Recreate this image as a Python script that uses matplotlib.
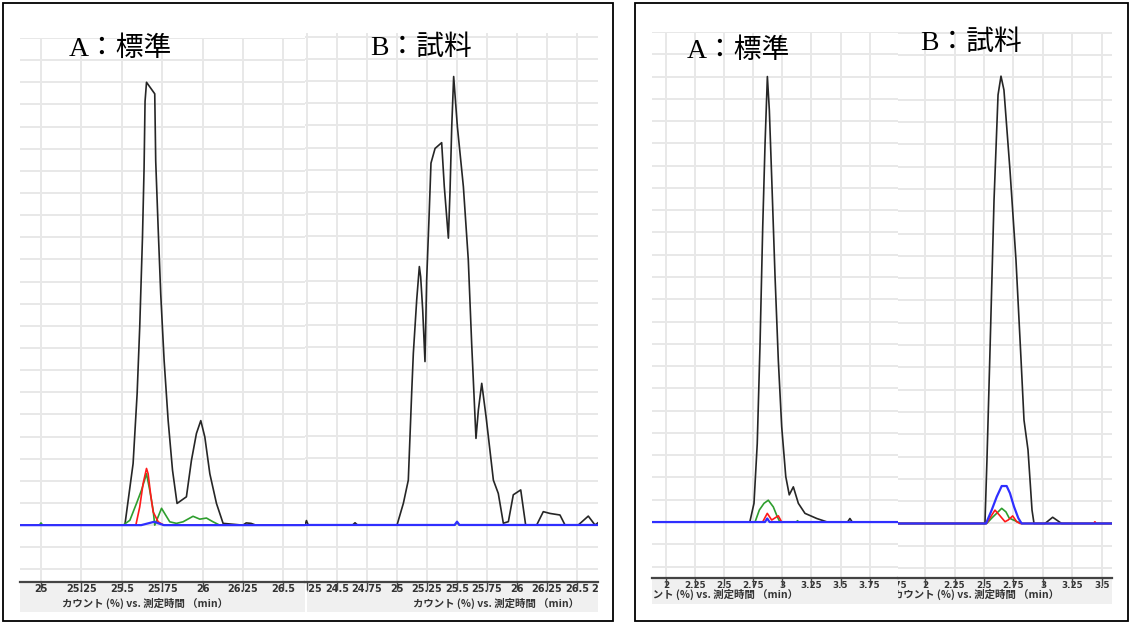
import numpy as np
import matplotlib.pyplot as plt
import matplotlib.transforms as mtransforms
from matplotlib.patches import Rectangle

plt.rcParams['font.family'] = ['DejaVu Sans', 'Noto Sans CJK JP']

W, H = 1134, 623

# ---- data: left panel, A (standard) ----
la_black_t = [24.87, 25.50, 25.519, 25.57, 25.595, 25.611, 25.628, 25.638, 25.644, 25.653,
              25.704, 25.71, 25.725, 25.741, 25.762, 25.787, 25.814, 25.842, 25.90, 25.931,
              25.962, 25.989, 26.014, 26.045, 26.086, 26.127, 26.25, 26.27, 26.30, 26.33, 26.634]
la_black_v = [0, 0, 0, 13.9, 29.7, 44.7, 64.9, 80.7, 95.7, 100,
              97.4, 82.2, 67.2, 52.2, 37.2, 23.6, 12.4, 4.9, 6.4, 14.6,
              20.7, 23.6, 19.9, 11.6, 4.9, 0.4, 0, 0.5, 0.4, 0, 0]
la_green_t = [24.87, 24.99, 25.0, 25.01, 25.508, 25.55, 25.591, 25.622, 25.653, 25.673, 25.694,
              25.704, 25.725, 25.746, 25.766, 25.797, 25.838, 25.879, 25.941, 25.983, 26.024,
              26.065, 26.106, 26.634]
la_green_v = [0, 0, 0.5, 0, 0, 1.1, 4.9, 7.9, 11.6, 7.9, 3.4,
              0, 1.9, 3.8, 2.6, 0.75, 0.4, 0.75, 2.0, 1.35, 1.6,
              0.75, 0, 0]
la_red_t = [24.87, 25.587, 25.611, 25.632, 25.653, 25.663, 25.678, 25.694, 25.725, 25.76, 26.634]
la_red_v = [0, 0, 4.1, 9.4, 12.8, 11.6, 7.1, 3.0, 0.75, 0, 0]
la_blue_t = [24.87, 25.62, 25.70, 25.76, 26.634]
la_blue_v = [0, 0, 0.75, 0, 0]

# ---- data: left panel, B (sample) ----
lb_black_t = [24.233, 24.245, 24.26, 24.63, 24.65, 24.67, 25.0, 25.053, 25.094, 25.122,
              25.136, 25.164, 25.186, 25.197, 25.214, 25.233, 25.247, 25.267, 25.283, 25.317,
              25.372, 25.394, 25.428, 25.442, 25.456, 25.472, 25.503, 25.553, 25.594, 25.622,
              25.658, 25.678, 25.706, 25.742, 25.803, 25.844, 25.886, 25.928, 25.969, 26.031,
              26.072, 26.164, 26.219, 26.275, 26.358, 26.40, 26.511, 26.594, 26.65, 26.675]
lb_black_v = [0, 1.0, 0, 0, 0.5, 0, 0, 4.9, 10.1, 29.7,
              38.7, 50.7, 58.2, 55.9, 48.4, 36.8, 55.2, 69.4, 81.5, 84.8,
              86.1, 76.2, 64.6, 75.5, 89.7, 101, 89.7, 76.2, 59.7, 40.9,
              19.5, 25.9, 31.9, 24.4, 10.1, 7.1, 0.4, 0.75, 6.8, 7.9,
              0, 0, 3.0, 2.6, 2.25, 0, 0, 2.0, 0, 0.5]
lb_green_t = [24.233, 25.48, 25.5, 25.52, 26.675]
lb_green_v = [0, 0, 0.5, 0, 0]
lb_blue_t = [24.233, 25.48, 25.5, 25.52, 26.675]
lb_blue_v = [0, 0, 0.75, 0, 0]

# ---- data: right panel, A (standard) ----
ra_black_t = [1.88, 2.72, 2.756, 2.784, 2.808, 2.831, 2.851, 2.871, 2.888, 2.908, 2.937, 2.965,
              2.994, 3.029, 3.059, 3.094, 3.137, 3.194, 3.295, 3.386, 3.56, 3.58, 3.60, 3.993]
ra_black_v = [0, 0, 4.2, 17.6, 40, 66.2, 84.9, 100, 92.4, 77.4, 55, 36.3,
              21.4, 10.2, 6.1, 7.9, 4.2, 1.95, 0.8, 0, 0, 0.8, 0, 0]
ra_green_t = [1.88, 2.765, 2.802, 2.842, 2.879, 2.922, 2.956, 2.979, 3.12, 3.13, 3.14, 3.993]
ra_green_v = [0, 0, 2.7, 4.2, 4.9, 3.4, 1.2, 0, 0, 0.3, 0, 0]
ra_red_t = [1.88, 2.83, 2.87, 2.908, 2.965, 2.994, 3.993]
ra_red_v = [0, 0, 1.95, 0.45, 1.4, 0, 0]
ra_blue_t = [1.88, 2.85, 2.87, 2.89, 3.993]
ra_blue_v = [0, 0, 0.8, 0, 0]

# ---- data: right panel, B (sample) ----
rb_black_t = [1.771, 2.508, 2.525, 2.551, 2.585, 2.619, 2.644, 2.669, 2.72, 2.771, 2.814,
              2.839, 2.873, 2.89, 2.907, 2.924, 3.017, 3.082, 3.158, 3.585]
rb_black_v = [0, 0, 14.2, 38.9, 72.5, 96.1, 100.3, 97.2, 79.3, 59.1, 36.7,
              23.2, 16.5, 9.8, 3.0, 0, 0, 1.4, 0, 0]
rb_green_t = [1.771, 2.523, 2.565, 2.608, 2.65, 2.686, 2.714, 2.748, 2.782, 2.819, 3.585]
rb_green_v = [0, 0, 1.2, 2.3, 3.4, 2.6, 1.2, 0.8, 0.4, 0, 0]
rb_red_t = [1.771, 2.52, 2.557, 2.593, 2.63, 2.678, 2.706, 2.743, 2.777, 2.805, 3.43, 3.44, 3.45, 3.585]
rb_red_v = [0, 0, 1.5, 3.0, 1.9, 0.4, 0.8, 1.7, 0.4, 0, 0, 0.4, 0, 0]
rb_blue_t = [1.771, 2.517, 2.565, 2.608, 2.65, 2.692, 2.72, 2.754, 2.791, 2.819, 3.585]
rb_blue_v = [0, 0, 3.0, 6.0, 8.4, 8.4, 6.8, 3.8, 1.2, 0, 0]

la_ticks = [25, 25.25, 25.5, 25.75, 26, 26.25, 26.5]
lb_ticks = [24.25, 24.5, 24.75, 25, 25.25, 25.5, 25.75, 26, 26.25, 26.5, 26.75]
ra_ticks = [2, 2.25, 2.5, 2.75, 3, 3.25, 3.5, 3.75]
rb_ticks = [1.75, 2, 2.25, 2.5, 2.75, 3, 3.25, 3.5]

xlabel = 'カウント (%) vs. 測定時間 （min）'

BLACK, RED, GREEN, BLUE = '#262626', '#ff1a1a', '#2e9e2e', '#2f2fff'

fig = plt.figure(figsize=(W / 100, H / 100), dpi=100)


def frac(x0, y0, x1, y1):
    return [x0 / W, 1 - y1 / H, (x1 - x0) / W, (y1 - y0) / H]


def draw_panel(ax_px, band_px, xlim, ylim, ticks, tick_fs, tick_y, lab_x, lab_y, curves):
    ax = fig.add_axes(frac(*ax_px))
    ax.set_zorder(2)
    for t, v, c in curves:
        # blue is drawn last and a bit wider so the shared baseline reads blue
        ax.plot(t, v, color=c, lw=1.6 if c == BLUE else 1.2)
    ax.set_xlim(xlim)
    ax.set_ylim(ylim)
    ax.set_xticks([t for t in ticks if xlim[0] <= t <= xlim[1]])
    ax.set_yticks(np.arange(-10, 111, 5))
    ax.grid(True, color='#e8e8e8', lw=1.4)
    ax.set_axisbelow(True)
    ax.tick_params(axis='x', direction='out', length=6, width=1, color='#444', labelbottom=False)
    ax.tick_params(axis='y', left=False, labelleft=False)
    for s in ['top', 'left', 'right']:
        ax.spines[s].set_visible(False)
    ax.spines['bottom'].set_color('#444')
    ax.spines['bottom'].set_linewidth(1.6)

    band = fig.add_axes(frac(*band_px))
    band.set_zorder(1)
    band.set_facecolor('#f0f0f0')
    band.set_xticks([])
    band.set_yticks([])
    for s in band.spines.values():
        s.set_visible(False)
    trans = mtransforms.blended_transform_factory(ax.transData, band.transAxes)
    yfrac = (band_px[3] - tick_y) / (band_px[3] - band_px[1])
    for t in ticks:
        band.text(t, yfrac, f'{t:g}', transform=trans, ha='center', va='center',
                  fontsize=tick_fs, fontweight='bold', color='#333333', clip_on=True)
    band.text(lab_x / W, 1 - lab_y / H, xlabel, transform=fig.transFigure,
              ha='left', va='center', fontsize=7.5, fontweight='bold',
              family=['Noto Sans CJK JP'], color='#333333', clip_on=True)


draw_panel((20, 38, 305, 582), (20, 582, 305, 612), (24.870, 26.634), (-12.84, 109.7),
           la_ticks, 7, 589, 62, 603,
           [(la_black_t, la_black_v, BLACK), (la_green_t, la_green_v, GREEN),
            (la_red_t, la_red_v, RED), (la_blue_t, la_blue_v, BLUE)])
draw_panel((305, 33, 598, 582), (307, 582, 598, 612), (24.233, 26.675), (-12.84, 110.8),
           lb_ticks, 7, 589, 413, 603,
           [(lb_black_t, lb_black_v, BLACK), (lb_green_t, lb_green_v, GREEN),
            (lb_blue_t, lb_blue_v, BLUE)])
draw_panel((652, 32, 898, 578), (652, 578, 898, 604), (1.880, 3.993), (-12.56, 109.9),
           ra_ticks, 6.3, 585.5, 632, 594,
           [(ra_black_t, ra_black_v, BLACK), (ra_green_t, ra_green_v, GREEN),
            (ra_red_t, ra_red_v, RED), (ra_blue_t, ra_blue_v, BLUE)])
draw_panel((898, 32, 1112, 578), (898, 578, 1112, 604), (1.771, 3.585), (-12.22, 110.2),
           rb_ticks, 6.3, 585.5, 893, 594,
           [(rb_black_t, rb_black_v, BLACK), (rb_green_t, rb_green_v, GREEN),
            (rb_red_t, rb_red_v, RED), (rb_blue_t, rb_blue_v, BLUE)])

# panel titles
title_font = ['Liberation Serif', 'Noto Sans CJK JP']
for x, y, s in [(69, 49, 'A：標準'), (370, 48, 'B：試料'), (687, 51, 'A：標準'), (920, 43, 'B：試料')]:
    fig.text(x / W, 1 - y / H, s, fontsize=20, family=title_font, ha='left', va='center', zorder=5)

# outer frames
for x0, y0, x1, y1 in [(3, 3, 613, 621), (635, 3, 1128, 621)]:
    fig.add_artist(Rectangle((x0 / W, 1 - y1 / H), (x1 - x0) / W, (y1 - y0) / H,
                             transform=fig.transFigure, fill=False, lw=1.3, ec='black', zorder=6))

fig.savefig('out.png', dpi=100)
